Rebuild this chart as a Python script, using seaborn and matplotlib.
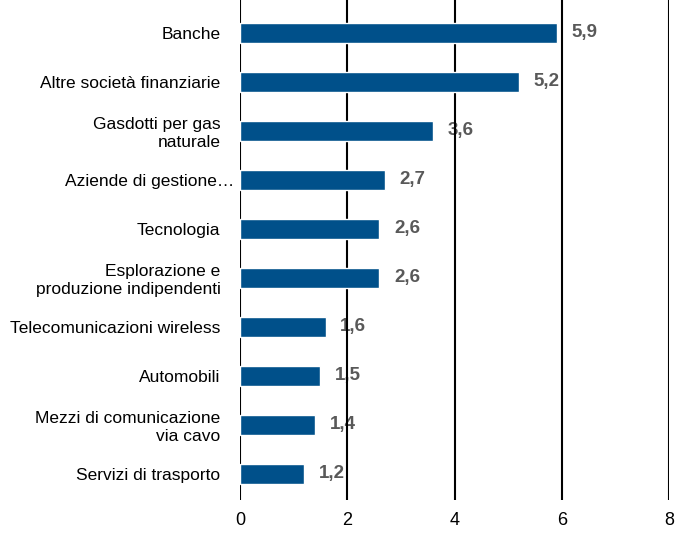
import numpy as np
import pandas as pd
import matplotlib
matplotlib.use("Agg")
import matplotlib.pyplot as plt
import matplotlib.transforms as mtransforms
import seaborn as sns

# dati
settori = ["Banche", "Altre società finanziarie", "Gasdotti per gas\nnaturale",
           "Aziende di gestione…", "Tecnologia", "Esplorazione e\nproduzione indipendenti",
           "Telecomunicazioni wireless", "Automobili", "Mezzi di comunicazione\nvia cavo",
           "Servizi di trasporto"]
valori = [5.9, 5.2, 3.6, 2.7, 2.6, 2.6, 1.6, 1.5, 1.4, 1.2]
etichette = ["5,9", "5,2", "3,6", "2,7", "2,6", "2,6", "1,6", "1,5", "1,4", "1,2"]
xticks = [0, 2, 4, 6, 8]

df = pd.DataFrame({"settore": settori, "valore": valori})

sns.set_style("white")
plt.rcParams["font.family"] = ["Liberation Sans", "DejaVu Sans"]

fig = plt.figure(figsize=(6.78, 5.33), dpi=100)
ax = fig.add_axes([0.354, 0.062, 0.633, 0.938])

sns.barplot(data=df, x="valore", y="settore", color="#00508A", width=0.42,
            saturation=1, ax=ax, zorder=3)

# linee verticali
for xv in xticks:
    ax.axvline(xv, color="black", lw=1.5, zorder=2)

for i, (v, t) in enumerate(zip(valori, etichette)):
    ax.text(v + 0.27, i, t, va="center", ha="left", fontsize=13.5,
            fontweight="bold", color="#595959", zorder=1)

ax.set_xlim(0, 8)
ax.set_ylim(9.53, -0.67)
ax.set_xticks(xticks)
ax.set_xticklabels([str(x) for x in xticks])
ax.set_xlabel("")
ax.set_ylabel("")
ax.tick_params(axis="both", length=0, labelsize=12.5, colors="black")
ax.tick_params(axis="x", labelsize=13, pad=9)
ax.tick_params(axis="y", pad=14)
for lab in ax.get_yticklabels():
    lab.set_multialignment("right")
    if lab.get_text().startswith("Aziende"):
        lab.set_transform(lab.get_transform() +
                          mtransforms.ScaledTranslation(14 / 100, 0, fig.dpi_scale_trans))
for s in ax.spines.values():
    s.set_visible(False)

fig.savefig("out.png", dpi=100)
